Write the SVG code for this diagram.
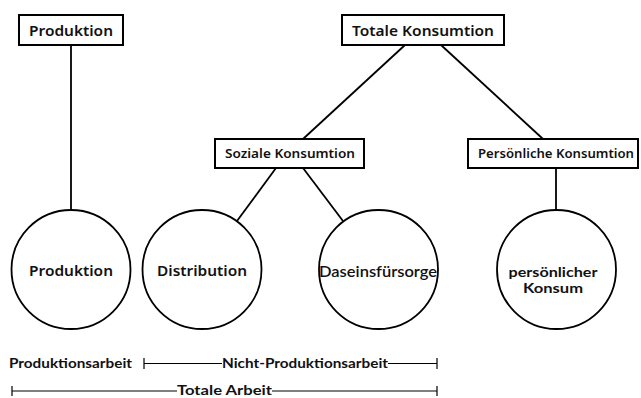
<svg xmlns="http://www.w3.org/2000/svg" width="641" height="398" viewBox="0 0 641 398">
<style>
.box{fill:#fff;stroke:#000;stroke-width:2}
.circ{fill:#fff;stroke:#000;stroke-width:1.8}
.edge{stroke:#000;stroke-width:1.8;fill:none}
.bar{stroke:#000;stroke-width:1.2;fill:none}
.t{font-family:"Noto Sans","DejaVu Sans",sans-serif;font-weight:600;fill:#111;text-anchor:middle}
.l{font-family:Lato,"Noto Sans",sans-serif;fill:#111;text-anchor:middle}
.b{font-family:Lato,"Liberation Sans",sans-serif;font-weight:bold;fill:#111;font-size:12.5px}
</style>
<rect width="641" height="398" fill="#fff"/>
<g id="connectors">
<line class="edge" x1="71" y1="45" x2="71" y2="209"/>
<line class="edge" x1="405" y1="45" x2="303" y2="139"/>
<line class="edge" x1="441" y1="45" x2="543" y2="139"/>
<line class="edge" x1="276" y1="168" x2="237" y2="221"/>
<line class="edge" x1="303" y1="168" x2="343" y2="221"/>
<line class="edge" x1="556" y1="168" x2="556" y2="210"/>
</g>
<g id="produktion-box">
<rect class="box" x="19" y="15" width="104" height="30"/>
<text class="t" x="71" y="36" font-size="14" textLength="84" lengthAdjust="spacingAndGlyphs">Produktion</text>
</g>
<g id="totale-konsumtion">
<rect class="box" x="342" y="15" width="162" height="30"/>
<text class="t" x="423" y="36" font-size="14" textLength="142" lengthAdjust="spacingAndGlyphs">Totale Konsumtion</text>
</g>
<g id="soziale-konsumtion">
<rect class="box" x="215" y="139" width="149" height="29"/>
<text class="t" x="290" y="158" font-size="12" textLength="130" lengthAdjust="spacingAndGlyphs">Soziale Konsumtion</text>
</g>
<g id="persoenliche-konsumtion">
<rect class="box" x="468" y="139" width="170" height="29"/>
<text class="t" x="556" y="158" font-size="12" font-weight="500" textLength="156" lengthAdjust="spacingAndGlyphs">Persönliche Konsumtion</text>
</g>
<g id="produktion-circle">
<circle class="circ" cx="71" cy="269.5" r="59.5"/>
<text class="t" x="71" y="276" font-size="14" textLength="84" lengthAdjust="spacingAndGlyphs">Produktion</text>
</g>
<g id="distribution">
<circle class="circ" cx="202" cy="269.5" r="59.5"/>
<text class="t" x="202" y="276" font-size="14" textLength="90" lengthAdjust="spacingAndGlyphs">Distribution</text>
</g>
<g id="daseinsfuersorge">
<circle class="circ" cx="378.5" cy="269.5" r="59.5"/>
<text class="l" x="378" y="277" font-size="15.5" font-weight="600" textLength="118" lengthAdjust="spacingAndGlyphs">Daseinsfürsorge</text>
</g>
<g id="persoenlicher-konsum">
<circle class="circ" cx="556.5" cy="269.5" r="59.5"/>
<text class="l" x="553" y="277" font-size="14" font-weight="bold" textLength="89" lengthAdjust="spacingAndGlyphs">persönlicher</text>
<text class="l" x="553" y="293" font-size="14" font-weight="bold" textLength="60" lengthAdjust="spacingAndGlyphs">Konsum</text>
</g>
<g id="scales">
<text class="b" x="9" y="368" textLength="123" lengthAdjust="spacingAndGlyphs">Produktionsarbeit</text>
<path class="bar" d="M144 358V369M144 363.5H222M388 363.5H437M437 358V369"/>
<text class="b" x="222" y="368" textLength="166" lengthAdjust="spacingAndGlyphs">Nicht-Produktionsarbeit</text>
<path class="bar" d="M12 386V396M12 391H177M272 391H437M437 386V396"/>
<text class="b" x="177" y="395" font-size="12" textLength="95" lengthAdjust="spacingAndGlyphs">Totale Arbeit</text>
</g>
</svg>
